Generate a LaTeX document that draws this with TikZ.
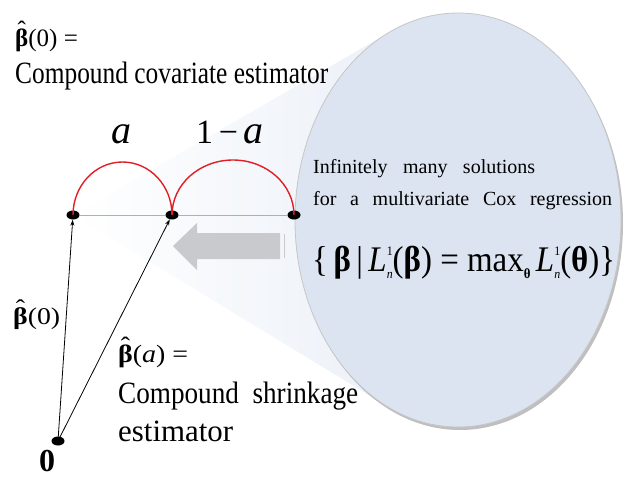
\documentclass[tikz,border=0pt]{standalone}
\usepackage{amsmath}
\usepackage{fontspec}
\setmainfont{Liberation Serif}
\usetikzlibrary{arrows.meta,shapes.geometric}
\definecolor{ellcol}{RGB}{219,228,240}
\definecolor{conecol}{RGB}{236,241,248}
\definecolor{arrgray}{RGB}{200,202,205}
\definecolor{arcred}{RGB}{226,30,36}
\definecolor{linblue}{RGB}{150,180,220}
\newcommand{\hb}{{\ooalign{\textbf{β}\cr\hidewidth\raisebox{0.3em}{\char"02C6}\hidewidth\cr}}}
\newcommand{\bbeta}{\textbf{β}}
\newcommand{\fs}[1]{\fontsize{#1}{#1}\selectfont}
\newcommand{\Lnone}{\textit{L}\rlap{\raisebox{0.42em}{\fs{13}1}}\raisebox{-0.22em}{\fs{13}\itshape n}}
\begin{document}
\begin{tikzpicture}[x=1pt,y=1pt,
  dot/.style={ellipse,fill=black,inner sep=0,minimum width=13pt,minimum height=9pt},
  txt/.style={inner sep=0,anchor=base west},
  vec/.style={draw=black,line width=0.8pt,-{Stealth[length=6pt,width=4pt]}},
  redarc/.style={draw=arcred,line width=1.4pt}]
\useasboundingbox (0,0) rectangle (625,-477);
% cone
\shade[left color=white,right color=conecol] (73,-215) -- (390.5,-31.6) -- (387.5,-406.6) -- cycle;
% ellipse with shadow
\fill[black,opacity=0.25] (460,-223) ellipse[x radius=163,y radius=207];
\node[ellipse,fill=ellcol,draw=gray!45,line width=0.8pt,minimum width=326pt,minimum height=414pt,inner sep=0] (E) at (458,-220) {};
% gray arrow
\fill[arrgray] (173,-246) -- (197,-223) -- (197,-233) -- (280,-233) -- (280,-259) -- (197,-259) -- (197,-270) -- cycle;
\draw[arrgray,line width=0.8pt] (284,-234) -- (284,-258);
% points
\node[dot] (P1) at (73,-215) {};
\node[dot] (P2) at (172,-215) {};
\node[dot] (P3) at (294,-215) {};
\node[dot] (O) at (58,-441) {};
\draw[linblue,line width=0.8pt] (P1) -- (P2) -- (P3);
\draw[redarc] (P1.center) arc[start angle=180,end angle=0,x radius=49.5pt,y radius=53pt];
\draw[redarc] (P2.center) arc[start angle=180,end angle=0,x radius=61pt,y radius=55pt];
\draw[vec] (O.center) -- (P1);
\draw[vec] (O.center) -- (P2);
% texts
\node[txt] (t1) at (15,-46) {\fs{25}\hb(0) =};
\node[txt] (t2) at (15,-83) {\resizebox{313pt}{\height}{\fs{31}Compound covariate estimator}};
\node[txt] (ta) at (111,-143) {\fs{40}\itshape a};
\node[txt] (tb) at (196,-143) {\fs{34}1\,−\,{\fs{40}\itshape a}};
\node[txt] (t3) at (313,-173) {\fs{20}\makebox[222pt][s]{Infinitely many solutions}};
\node[txt] (t4) at (313,-205) {\fs{20}\makebox[299pt][s]{for a multivariate Cox regression}};
\node[txt] (t5) at (312,-271) {\resizebox{303pt}{\height}{\fs{36}\{\,\bbeta\,|\,\Lnone(\bbeta) = max\raisebox{-0.2em}{\fs{14}\textbf{θ}}\,\Lnone(\textbf{θ})\}}};
\node[txt] (t6) at (13,-324) {\resizebox{47pt}{\height}{\fs{24}\hb(0)}};
\node[txt] (t7) at (118,-362) {\resizebox{70pt}{\height}{\fs{25}\hb(\textit{a}) =}};
\node[txt] (t8) at (118,-403) {\resizebox{240pt}{\height}{\fs{31}Compound\ \ shrinkage}};
\node[txt] (t9) at (118,-441) {\resizebox{115pt}{\height}{\fs{31}estimator}};
\node[inner sep=0,anchor=base] (t0) at (47,-471) {\fs{32}\bfseries 0};
\end{tikzpicture}
\end{document}
